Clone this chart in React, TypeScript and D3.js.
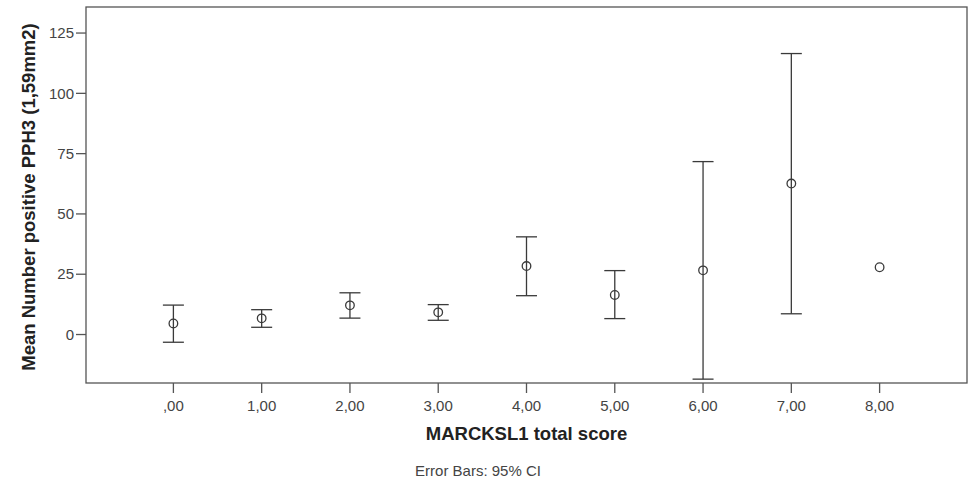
import React from "react";
import * as d3 from "d3";

const categories = [0, 1, 2, 3, 4, 5, 6, 7, 8];
const categoryLabels = [",00", "1,00", "2,00", "3,00", "4,00", "5,00", "6,00", "7,00", "8,00"];
const means = [4.6, 6.7, 12.1, 9.2, 28.4, 16.4, 26.6, 62.6, 27.9];
const ciLower: (number | null)[] = [-3.2, 3.0, 6.8, 5.9, 16.1, 6.6, -18.5, 8.6, null];
const ciUpper: (number | null)[] = [12.2, 10.3, 17.3, 12.4, 40.5, 26.5, 71.7, 116.5, null];
const yTicks = [0, 25, 50, 75, 100, 125];

const W = 971;
const H = 480;
const left = 86, right = 967, top = 7, bottom = 383;

export default function App() {
  const x = d3.scaleLinear().domain([-0.99, 8.99]).range([left, right]);
  const y = d3.scaleLinear().domain([-20.1, 135.8]).range([bottom, top]);
  const stroke = "#3a3a3a";
  const font = "'Liberation Sans', Arial, sans-serif";
  const cap = 10.5;

  return (
    <svg width={W} height={H} style={{ position: "absolute", left: 0, top: 0, background: "#fff" }} fontFamily={font}>
      <rect x={left} y={top} width={right - left} height={bottom - top} fill="none" stroke="#555" strokeWidth={1.3} />
      {yTicks.map((t) => (
        <g key={t}>
          <line x1={left - 10} x2={left} y1={y(t)} y2={y(t)} stroke="#555" strokeWidth={1.3} />
          <text x={left - 12} y={y(t)} dy="0.35em" textAnchor="end" fontSize={15} fill="#444">{t}</text>
        </g>
      ))}
      {categories.map((c, i) => (
        <g key={c}>
          <line x1={x(c)} x2={x(c)} y1={bottom} y2={bottom + 10} stroke="#555" strokeWidth={1.3} />
          <text x={x(c)} y={411} textAnchor="middle" fontSize={15} fill="#444">{categoryLabels[i]}</text>
        </g>
      ))}
      {categories.map((c, i) => {
        const lo = ciLower[i];
        const hi = ciUpper[i];
        const cx = x(c);
        return (
          <g key={"e" + c}>
            {lo !== null && hi !== null && (
              <g stroke={stroke} strokeWidth={1.3}>
                <line x1={cx} x2={cx} y1={y(lo)} y2={y(hi)} />
                <line x1={cx - cap} x2={cx + cap} y1={y(lo)} y2={y(lo)} />
                <line x1={cx - cap} x2={cx + cap} y1={y(hi)} y2={y(hi)} />
              </g>
            )}
            <circle cx={cx} cy={y(means[i])} r={4.3} fill="#fff" stroke={stroke} strokeWidth={1.3} />
            {lo !== null && hi !== null && (
              <line x1={cx} x2={cx} y1={y(means[i]) - 4.3} y2={y(means[i]) + 4.3} stroke={stroke} strokeWidth={1.3} />
            )}
          </g>
        );
      })}
      <text x={(left + right) / 2} y={440} textAnchor="middle" fontSize={18.5} fontWeight="bold" fill="#222">MARCKSL1 total score</text>
      <text x={478} y={476} textAnchor="middle" fontSize={15} fill="#444">Error Bars: 95% CI</text>
      <text transform={`translate(35, 197) rotate(-90)`} textAnchor="middle" fontSize={18.5} fontWeight="bold" fill="#222">Mean Number positive PPH3 (1,59mm2)</text>
    </svg>
  );
}
